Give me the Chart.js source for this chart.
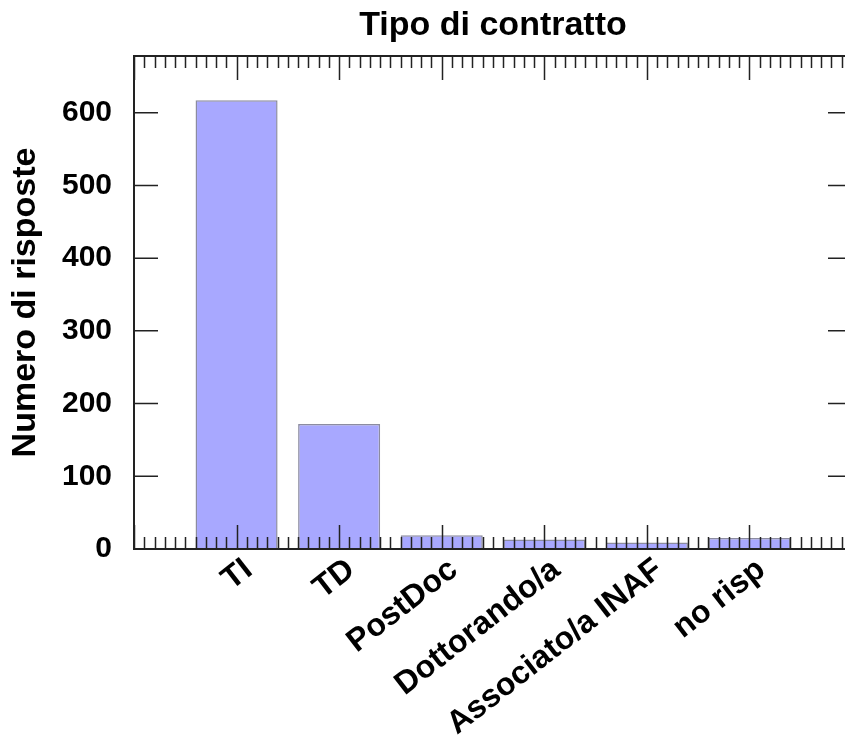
<!DOCTYPE html>
<html>
<head>
<meta charset="utf-8">
<script src="https://cdn.jsdelivr.net/npm/chart.js@4.4.1/dist/chart.umd.min.js"></script>
<style>
  html, body { margin: 0; padding: 0; background: #fff; overflow: hidden; }
  #wrap { width: 845px; height: 749px; overflow: hidden; }
</style>
</head>
<body>
<div id="wrap"><canvas id="myChart" width="860" height="749"></canvas></div>
<script>
const categories = ["TI", "TD", "PostDoc", "Dottorando/a", "Associato/a INAF", "no risp"];
const responses = [617, 172, 19, 13, 9, 15];
const yTicks = [0, 100, 200, 300, 400, 500, 600];

const ctx = document.getElementById("myChart");
const font = "'Liberation Sans', Arial, sans-serif";

// one empty slot each side so the bars sit a full category in from the frame
const labels = ["", ...categories, ""];
const values = [null, ...responses, null];

// frame with inward ticks (minor every tenth of a category on top/bottom)
const frameTicks = {
  id: "frameTicks",
  afterDraw(chart) {
    const c = chart.ctx;
    const xs = chart.scales.x;
    const ys = chart.scales.y;
    const a = chart.chartArea;
    c.save();
    c.strokeStyle = "#222";
    c.lineWidth = 1.5;
    c.beginPath();
    for (let k = 0; k <= (labels.length - 1) * 10; k++) {
      const px = Math.round(xs.getPixelForValue(k / 10)) + 0.5;
      const len = k % 10 === 0 ? 24 : 12;
      c.moveTo(px, a.top);
      c.lineTo(px, a.top + len);
      c.moveTo(px, a.bottom);
      c.lineTo(px, a.bottom - len);
    }
    yTicks.forEach((v) => {
      const py = ys.getPixelForValue(v);
      c.moveTo(a.left, py);
      c.lineTo(a.left + 24, py);
      c.moveTo(a.right, py);
      c.lineTo(a.right - 24, py);
    });
    c.stroke();
    c.lineWidth = 2;
    c.strokeRect(a.left, a.top, a.right - a.left, a.bottom - a.top);
    c.restore();
  },
};

const myChart = new Chart(ctx, {
  type: "bar",
  data: {
    labels: labels,
    datasets: [
      {
        data: values,
        backgroundColor: "rgb(168, 168, 255)",
        borderColor: "rgb(140, 140, 160)",
        borderWidth: 1.5,
        barPercentage: 0.8,
        categoryPercentage: 1.0,
      },
    ],
  },
  options: {
    responsive: false,
    animation: false,
    layout: { autoPadding: false, padding: { left: 0, right: 8, top: 0, bottom: 0 } },
    plugins: {
      legend: { display: false },
      tooltip: { enabled: false },
      title: { display: false },
    },
    scales: {
      x: {
        offset: false,
        grid: { display: false, drawTicks: false },
        border: { display: false },
        ticks: {
          autoSkip: false,
          maxRotation: 38,
          minRotation: 38,
          padding: 2,
          labelOffset: 12,
          color: "#000",
          font: { family: font, size: 32, weight: "bold" },
        },
        afterFit: (s) => {
          s.height = 200;
          s.paddingLeft = 0;
          s.paddingRight = 0;
        },
      },
      // top axis only carries the title, so it is centred over the plot
      top: {
        type: "category",
        position: "top",
        offset: false,
        grid: { display: false, drawTicks: false },
        border: { display: false },
        ticks: { display: false },
        title: {
          display: true,
          text: "Tipo di contratto",
          color: "#000",
          font: { family: font, size: 34, weight: "bold" },
          padding: { top: 5, bottom: 0 },
        },
        afterFit: (s) => {
          s.height = 56;
          s.paddingLeft = 0;
          s.paddingRight = 0;
        },
      },
      y: {
        min: 0,
        max: 678,
        grid: { display: false, drawTicks: false },
        border: { display: false },
        afterBuildTicks: (s) => {
          s.ticks = yTicks.map((v) => ({ value: v }));
        },
        ticks: {
          padding: 22,
          color: "#000",
          font: { family: font, size: 30, weight: "bold" },
        },
        title: {
          display: true,
          text: "Numero di risposte",
          color: "#000",
          font: { family: font, size: 34, weight: "bold" },
          padding: { top: 5, bottom: 0 },
        },
        afterFit: (s) => {
          s.width = 134;
        },
      },
    },
  },
  plugins: [frameTicks],
});
</script>
</body>
</html>
